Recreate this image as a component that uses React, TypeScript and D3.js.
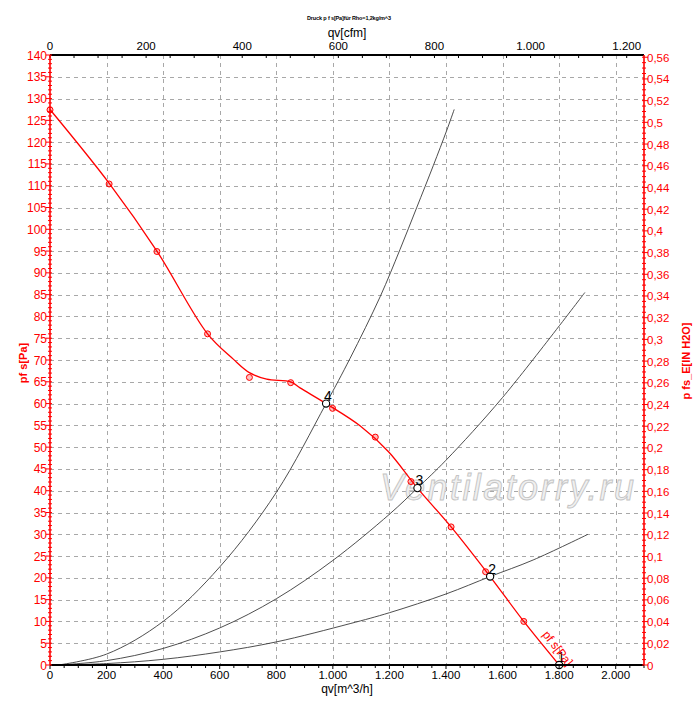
import React, { useEffect, useRef } from "react";
import * as d3 from "d3";

// fan curve (fitted line)
const fanQ = [0, 210, 378, 557, 648, 705, 766, 851, 884, 976, 1096, 1196, 1299, 1418, 1556, 1675, 1800];
const fanP = [127.5, 110.5, 95, 76, 70.2, 67.1, 65.6, 65.0, 63.6, 60.0, 54.9, 49.0, 40.6, 31.7, 20.3, 10.0, 0];

// measured points (red circles)
const measQ = [0, 209, 378, 557, 705, 851, 999, 1150, 1276, 1418, 1540, 1675];
const measP = [127.4, 110.4, 94.9, 76.0, 66.0, 64.8, 58.9, 52.3, 42.1, 31.7, 21.4, 10.0];

// system resistance curves
const sysAQ = [30, 200, 400, 600, 800, 976, 1061, 1167, 1237, 1296, 1355, 1402, 1429];
const sysAP = [0, 2.5, 10, 22.5, 39.6, 60, 70.4, 84.5, 95.3, 104.9, 114.6, 122.6, 127.5];
const sysBQ = [30, 200, 400, 600, 800, 1000, 1200, 1299, 1400, 1600, 1891];
const sysBP = [0, 1.0, 3.8, 8.5, 15.2, 24, 34.6, 40.6, 47, 61.4, 85.5];
const sysCQ = [30, 200, 400, 600, 800, 1061, 1200, 1400, 1556, 1708, 1902];
const sysCP = [0, 0.33, 1.3, 3.0, 5.3, 9.5, 12, 16.3, 20.3, 24.1, 30.0];

// operating points
const opLabels = ["1", "2", "3", "4"];
const opQ = [1800, 1556, 1299, 976];
const opP = [0, 20.3, 40.6, 60];

// tick labels
const flowTicks = [0, 200, 400, 600, 800, 1000, 1200, 1400, 1600, 1800, 2000];
const cfmTicks = [0, 200, 400, 600, 800, 1000, 1200];
const paTicks = [0, 5, 10, 15, 20, 25, 30, 35, 40, 45, 50, 55, 60, 65, 70, 75, 80, 85, 90, 95, 100, 105, 110, 115, 120, 125, 130, 135, 140];
const inchTicks = [0, 0.02, 0.04, 0.06, 0.08, 0.1, 0.12, 0.14, 0.16, 0.18, 0.2, 0.22, 0.24, 0.26, 0.28, 0.3, 0.32, 0.34, 0.36, 0.38, 0.4, 0.42, 0.44, 0.46, 0.48, 0.5, 0.52, 0.54, 0.56];

const CFM_PER_M3H = 0.588578;
const PA_PER_INH2O = 249.089;
const FONT = "'Liberation Sans', Arial, sans-serif";
const RED = "#ff0000";

const deLocale = d3.formatLocale({ decimal: ",", thousands: ".", grouping: [3], currency: ["", ""] });
const fmtInt = deLocale.format(",");
const fmtDec = deLocale.format(",.2~f");

const FanChart: React.FC = () => {
  const ref = useRef<SVGSVGElement | null>(null);

  useEffect(() => {
    if (!ref.current) return;
    const svg = d3.select(ref.current);
    svg.selectAll("*").remove();

    const left = 50;
    const right = 644;
    const top = 55;
    const bottom = 665;
    const qMax = 2100;
    const pMax = 140;

    const x = d3.scaleLinear().domain([0, qMax]).range([left, right]);
    const xTop = d3.scaleLinear().domain([0, qMax * CFM_PER_M3H]).range([left, right]);
    const y = d3.scaleLinear().domain([0, pMax]).range([bottom, top]);
    const yR = d3.scaleLinear().domain([0, pMax / PA_PER_INH2O]).range([bottom, top]);

    svg.append("rect").attr("width", 700).attr("height", 702).attr("fill", "#fff");

    // grid
    const grid = svg.append("g").attr("stroke", "#a8a8a8").attr("stroke-dasharray", "4,4").attr("shape-rendering", "crispEdges");
    grid
      .selectAll("line.v")
      .data(flowTicks.filter((d) => d > 0))
      .join("line")
      .attr("x1", (d) => Math.round(x(d)) + 0.5)
      .attr("x2", (d) => Math.round(x(d)) + 0.5)
      .attr("y1", top)
      .attr("y2", bottom);
    grid
      .selectAll("line.h")
      .data(paTicks.filter((d) => d > 0 && d < pMax))
      .join("line")
      .attr("class", "h")
      .attr("x1", left)
      .attr("x2", right)
      .attr("y1", (d) => Math.round(y(d)) + 0.5)
      .attr("y2", (d) => Math.round(y(d)) + 0.5);

    // watermark
    svg
      .append("text")
      .attr("x", 380)
      .attr("y", 500)
      .attr("font-family", FONT)
      .attr("font-style", "italic")
      .attr("font-size", 36)
      .attr("textLength", 254)
      .attr("fill", "#f0f0f0")
      .attr("stroke", "#c4c4c4")
      .attr("stroke-width", 0.9)
      .text("Ventilatorry.ru");

    // system curves
    const line = d3
      .line<[number, number]>()
      .x((d) => x(d[0]))
      .y((d) => y(d[1]))
      .curve(d3.curveCatmullRom.alpha(0.5));
    [
      [sysAQ, sysAP],
      [sysBQ, sysBP],
      [sysCQ, sysCP],
    ].forEach(([qs, ps]) => {
      svg
        .append("path")
        .attr("d", line(qs.map((q, i) => [q, ps[i]] as [number, number])))
        .attr("fill", "none")
        .attr("stroke", "#3a3a3a")
        .attr("stroke-width", 0.9);
    });

    // fan curve
    svg
      .append("path")
      .attr("d", line(fanQ.map((q, i) => [q, fanP[i]] as [number, number])))
      .attr("fill", "none")
      .attr("stroke", RED)
      .attr("stroke-width", 1.3);

    const meas = svg.append("g");
    measQ.forEach((q, i) => {
      meas
        .append("circle")
        .attr("cx", x(q))
        .attr("cy", y(measP[i]))
        .attr("r", 3)
        .attr("fill", "rgba(255,0,0,0.25)")
        .attr("stroke", RED)
        .attr("stroke-width", 1);
    });

    // operating points
    opQ.forEach((q, i) => {
      svg
        .append("circle")
        .attr("cx", x(q))
        .attr("cy", y(opP[i]))
        .attr("r", 3.6)
        .attr("fill", "#fff")
        .attr("stroke", "#000")
        .attr("stroke-width", 1.1);
      svg
        .append("text")
        .attr("x", x(q) - 2)
        .attr("y", y(opP[i]) - 3)
        .attr("font-family", FONT)
        .attr("font-size", 14)
        .attr("fill", "#000")
        .text(opLabels[i]);
    });

    // curve label
    const lx = x(1718);
    const ly = y(6);
    svg
      .append("text")
      .attr("transform", `translate(${lx + 6},${ly - 4}) rotate(52)`)
      .attr("font-family", FONT)
      .attr("font-size", 12)
      .attr("fill", RED)
      .text("pf s[Pa]");

    // frame axes top/bottom
    svg.append("line").attr("x1", left).attr("x2", right).attr("y1", top).attr("y2", top).attr("stroke", "#000").attr("stroke-width", 2);
    svg.append("line").attr("x1", left).attr("x2", right).attr("y1", bottom).attr("y2", bottom).attr("stroke", "#000").attr("stroke-width", 2);

    // bottom ticks
    const bt = svg.append("g").attr("stroke", "#000").attr("stroke-width", 1);
    d3.range(0, qMax + 1, 50).forEach((q) => {
      bt.append("line").attr("x1", x(q)).attr("x2", x(q)).attr("y1", bottom).attr("y2", bottom + (q % 200 === 0 ? 4 : 3));
    });
    svg
      .append("g")
      .selectAll("text")
      .data(flowTicks)
      .join("text")
      .attr("x", (d) => x(d))
      .attr("y", 679)
      .attr("text-anchor", "middle")
      .attr("font-family", FONT)
      .attr("font-size", 11.5)
      .attr("fill", "#000")
      .text((d) => fmtInt(d));
    svg
      .append("text")
      .attr("x", 347)
      .attr("y", 693)
      .attr("text-anchor", "middle")
      .attr("font-family", FONT)
      .attr("font-size", 12)
      .text("qv[m^3/h]");

    // top ticks
    const tt = svg.append("g").attr("stroke", "#000").attr("stroke-width", 1);
    d3.range(0, qMax * CFM_PER_M3H, 50).forEach((c) => {
      tt.append("line").attr("x1", xTop(c)).attr("x2", xTop(c)).attr("y1", top).attr("y2", top + 3);
    });
    svg
      .append("g")
      .selectAll("text")
      .data(cfmTicks)
      .join("text")
      .attr("x", (d) => xTop(d))
      .attr("y", 50)
      .attr("text-anchor", "middle")
      .attr("font-family", FONT)
      .attr("font-size", 11.5)
      .attr("fill", "#000")
      .text((d) => fmtInt(d));
    svg
      .append("text")
      .attr("x", 347)
      .attr("y", 37)
      .attr("text-anchor", "middle")
      .attr("font-family", FONT)
      .attr("font-size", 12)
      .text("qv[cfm]");

    // title
    svg
      .append("text")
      .attr("x", 349)
      .attr("y", 20)
      .attr("text-anchor", "middle")
      .attr("font-family", FONT)
      .attr("font-weight", "bold")
      .attr("font-size", 5.5)
      .attr("textLength", 84)
      .text("Druck p f s[Pa]für Rho=1,2kg/m^3");

    // left axis
    const la = svg.append("g").attr("stroke", RED).attr("stroke-width", 1);
    la.append("line").attr("x1", left).attr("x2", left).attr("y1", top).attr("y2", bottom).attr("stroke-width", 1.6);
    d3.range(0, pMax + 1, 1).forEach((p) => {
      const major = p % 5 === 0;
      la.append("line")
        .attr("x1", left - (major ? 4 : 2))
        .attr("x2", left + 2)
        .attr("y1", y(p))
        .attr("y2", y(p));
    });
    svg
      .append("g")
      .selectAll("text")
      .data(paTicks)
      .join("text")
      .attr("x", left - 3)
      .attr("y", (d) => y(d) + 4.5)
      .attr("text-anchor", "end")
      .attr("font-family", FONT)
      .attr("font-size", 12)
      .attr("fill", RED)
      .text((d) => fmtInt(d));
    svg
      .append("text")
      .attr("transform", `translate(27,363) rotate(-90)`)
      .attr("text-anchor", "middle")
      .attr("font-family", FONT)
      .attr("font-weight", "bold")
      .attr("font-size", 11)
      .attr("fill", RED)
      .text("pf s[Pa]");

    // right axis
    const ra = svg.append("g").attr("stroke", RED).attr("stroke-width", 1);
    ra.append("line").attr("x1", right).attr("x2", right).attr("y1", top).attr("y2", bottom).attr("stroke-width", 1.6);
    d3.range(0, 0.5601, 0.005).forEach((v, i) => {
      const major = i % 4 === 0;
      ra.append("line")
        .attr("x1", right - 2)
        .attr("x2", right + (major ? 4 : 2))
        .attr("y1", yR(v))
        .attr("y2", yR(v));
    });
    svg
      .append("g")
      .selectAll("text")
      .data(inchTicks)
      .join("text")
      .attr("x", right + 3)
      .attr("y", (d) => yR(d) + 4.5)
      .attr("font-family", FONT)
      .attr("font-size", 11.5)
      .attr("fill", RED)
      .text((d) => fmtDec(d));
    svg
      .append("text")
      .attr("transform", `translate(690,361) rotate(-90)`)
      .attr("text-anchor", "middle")
      .attr("font-family", FONT)
      .attr("font-weight", "bold")
      .attr("font-size", 11)
      .attr("fill", RED)
      .text("p fs_E[IN H2O]");
  }, []);

  return <svg ref={ref} width={700} height={702} style={{ position: "absolute", left: 0, top: 0 }}></svg>;
};

export default function App() {
  return <FanChart />;
}
